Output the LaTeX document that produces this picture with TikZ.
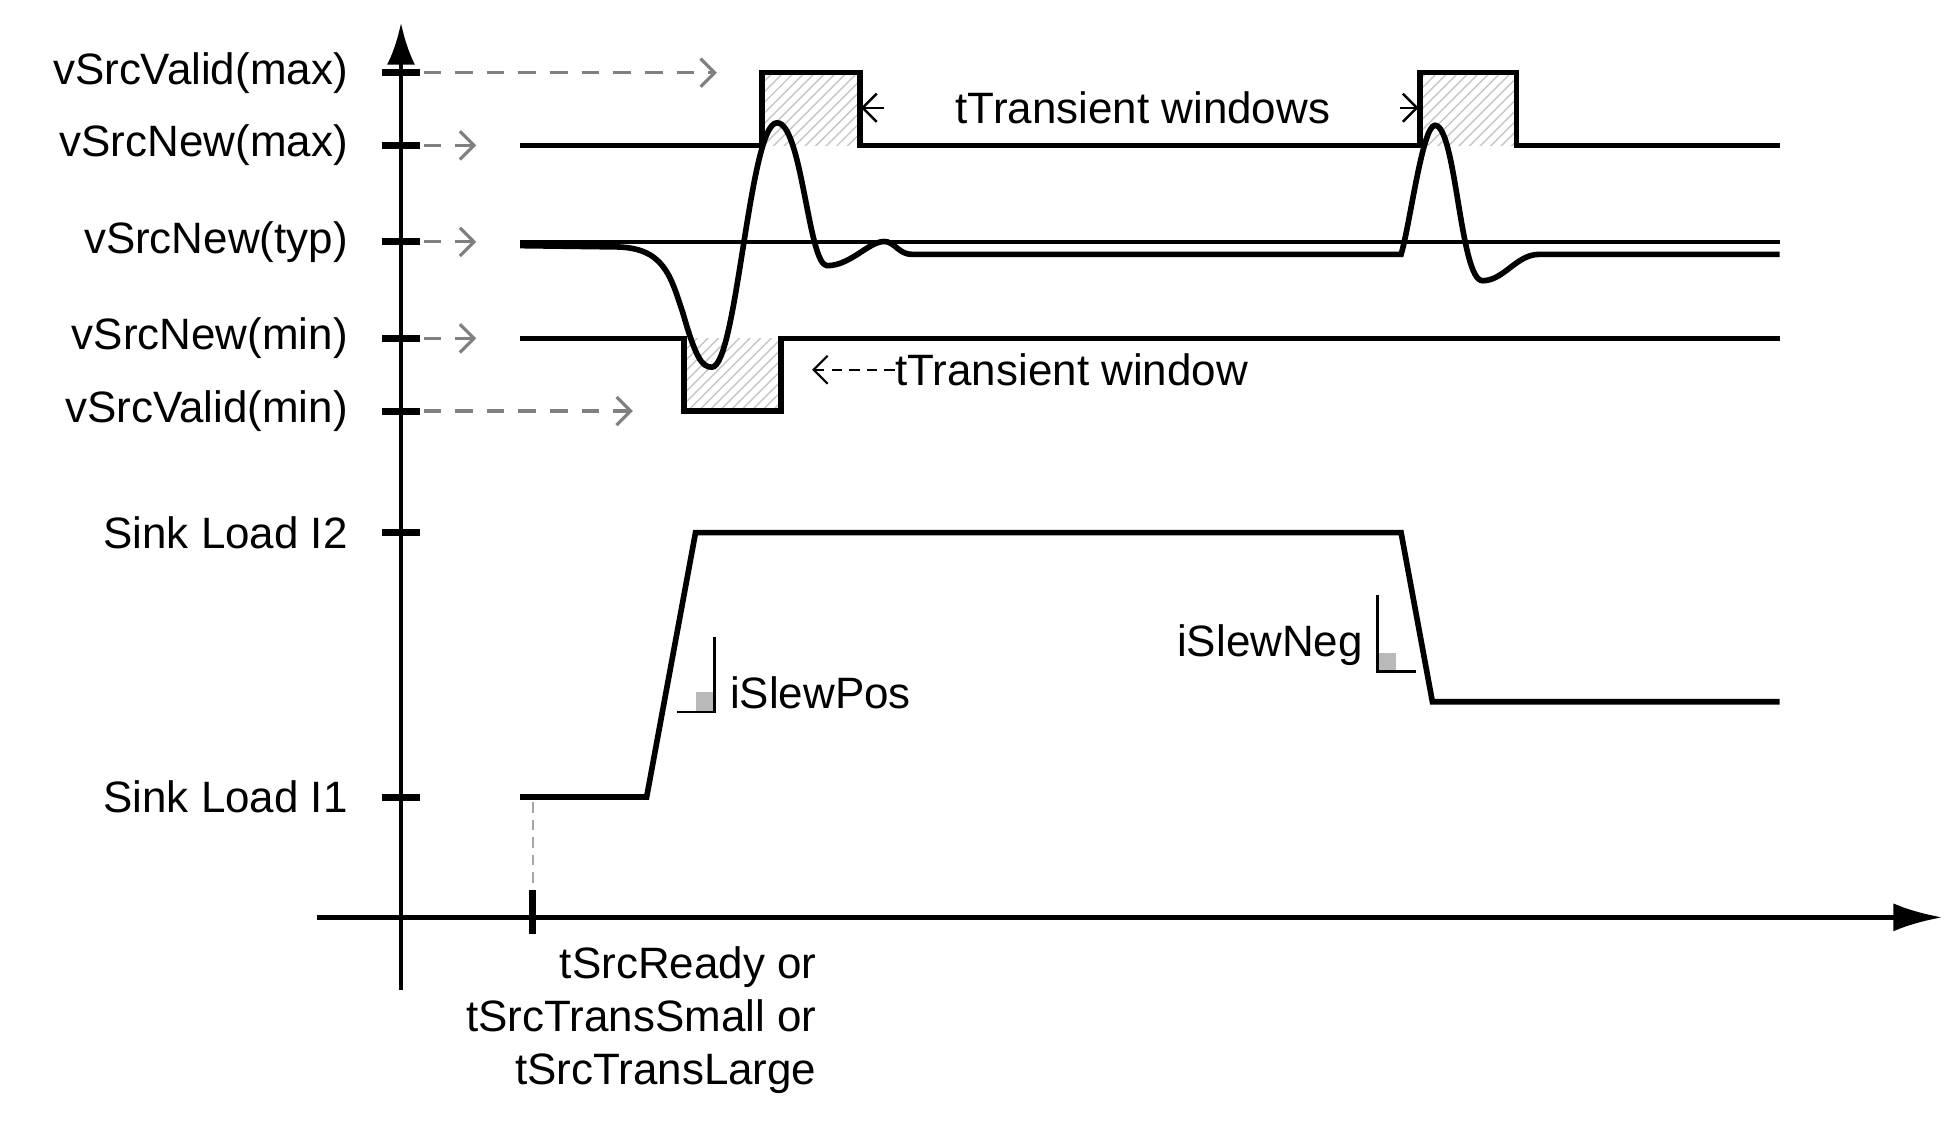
\documentclass[tikz,border=0pt]{standalone}
\usepackage{fontspec}
\setmainfont{Liberation Sans}
\usetikzlibrary{arrows.meta,patterns}
\tikzset{
  sig/.style = {line width = 1.6pt},
  tick/.style = {line width = 2pt},
  level/.style = {anchor = east, inner sep = 0pt},
  guide/.style = {gray, dashed, dash pattern = on 5pt off 4pt, line width = 0.9pt, -{Straight Barb[length = 4pt, width = 8pt]}},
  hatch/.style = {pattern = north east lines, pattern color = gray!45}
}
\begin{document}
\begin{tikzpicture}[x = 0.1253mm, y = -0.1253mm, font = \fontsize{12.5}{15}\selectfont]
    \useasboundingbox (0,0) rectangle (1560,902);
    % axes
    \draw[line width = 1.4pt, -{Latex[length = 12pt, width = 8pt]}] (320,790) -- (320,18);
    \draw[line width = 1.4pt, -{Latex[length = 14pt, width = 8pt]}] (253,732) -- (1550,732);
    % levels
    \foreach \y/\t/\e in {58/vSrcValid(max)/572, 116/vSrcNew(max)/380, 193/vSrcNew(typ)/380, 270/vSrcNew(min)/380, 328/vSrcValid(min)/505} {
        \node[level] at (278,\y) {\t};
        \draw[tick] (305,\y) -- (335,\y);
        \draw[guide] (338,\y) -- (\e,\y);
    }
    \foreach \y/\t in {425/Sink Load I2, 636/Sink Load I1} {
        \node[level] at (278,\y) {\t};
        \draw[tick] (305,\y) -- (335,\y);
    }
    % transient windows
    \fill[hatch] (608,58) rectangle (686,116);
    \fill[hatch] (1133,58) rectangle (1210,116);
    \fill[hatch] (546,270) rectangle (623,328);
    \draw[sig] (415,116) -- (608,116) -- (608,58) -- (686,58) -- (686,116) -- (1133,116) -- (1133,58) -- (1210,58) -- (1210,116) -- (1420,116);
    \draw[sig] (415,270) -- (546,270) -- (546,328) -- (623,328) -- (623,270) -- (1420,270);
    \draw[line width = 1pt] (415,193) -- (1420,193);
    % output voltage
    \draw[sig] (415,196) -- (490,197) .. controls (530,197) and (535,220) .. (545,250)
        .. controls (555,285) and (560,293) .. (568,293)
        .. controls (588,293) and (598,98) .. (620,98)
        .. controls (640,98) and (645,212) .. (660,212)
        .. controls (680,212) and (695,190) .. (708,193)
        .. controls (715,195) and (718,203) .. (728,203) -- (1118,203)
        .. controls (1125,180) and (1135,100) .. (1145,100)
        .. controls (1162,100) and (1165,224) .. (1183,224)
        .. controls (1200,224) and (1210,203) .. (1228,203) -- (1420,203);
    \node (tws) at (912,86) {tTransient windows};
    \draw[-{Straight Barb[length = 4pt, width = 8pt]}, line width = 0.7pt] (705,86) -- (687,86);
    \draw[-{Straight Barb[length = 4pt, width = 8pt]}, line width = 0.7pt] (1117,86) -- (1132,86);
    \node[anchor = west, inner sep = 0pt] (tw) at (714,295) {tTransient window};
    \draw[-{Straight Barb[length = 4pt, width = 8pt]}, line width = 0.6pt, dashed, dash pattern = on 3pt off 2pt] (tw.west) -- (648,295);
    % sink load current
    \draw[sig] (415,636) -- (516,636) -- (555,425) -- (1118,425) -- (1143,560) -- (1420,560);
    \fill[gray!55] (555,552) rectangle (570,568);
    \draw[line width = 0.7pt] (570,508) -- (570,568) -- (540,568);
    \node[anchor = west, inner sep = 0pt] at (582,553) {iSlewPos};
    \fill[gray!55] (1099,521) rectangle (1114,536);
    \draw[line width = 0.7pt] (1099,475) -- (1099,536) -- (1130,536);
    \node[anchor = east, inner sep = 0pt] at (1088,515) {iSlewNeg};
    % start time
    \draw[gray!70, line width = 0.6pt, dashed, dash pattern = on 3pt off 2pt] (425,640) -- (425,710);
    \draw[tick] (425,710) -- (425,745);
    \node[anchor = north east, align = right, inner sep = 0pt] at (652,755) {tSrcReady or\\tSrcTransSmall or\\tSrcTransLarge};
\end{tikzpicture}
\end{document}
